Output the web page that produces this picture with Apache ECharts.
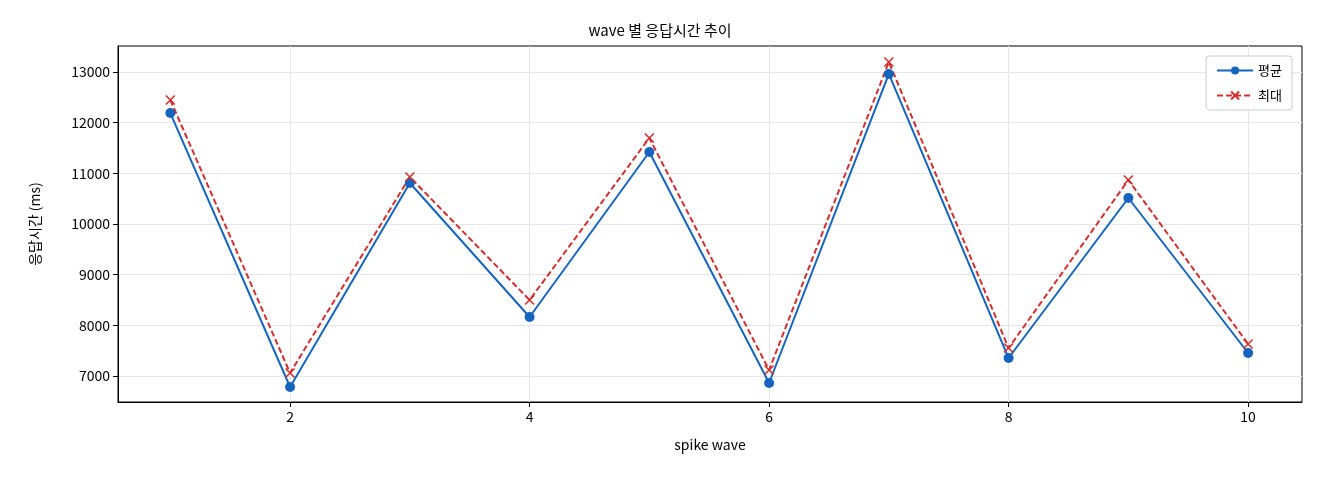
<!DOCTYPE html>
<html><head><meta charset="utf-8">
<script src="https://cdn.jsdelivr.net/npm/echarts@6/dist/echarts.min.js"></script>
<style>html,body{margin:0;padding:0;background:#fff}#c{width:1320px;height:480px}</style>
</head><body><div id="c"></div>
<script>
const waves = [1,2,3,4,5,6,7,8,9,10];
const avgMs = [12190,6783,10809,8164,11421,6862,12961,7355,10513,7454];
const maxMs = [12447,7059,10928,8500,11697,7118,13197,7553,10868,7632];
const xTicks = [2,4,6,8,10];
const yTicks = [7000,8000,9000,10000,11000,12000,13000];
const F = '"Noto Sans CJK KR", "DejaVu Sans", sans-serif';
const chart = echarts.init(document.getElementById('c'));
chart.setOption({
  animation:false,
  textStyle:{fontFamily:F},
  title:{text:'wave 별 응답시간 추이',left:'center',top:18,textStyle:{fontFamily:F,fontSize:15,fontWeight:'normal',color:'#000'}},
  grid:{left:118,right:18,top:46,bottom:78,show:true,borderColor:'#000',borderWidth:1,backgroundColor:'transparent'},
  legend:{right:28,top:56,orient:'vertical',itemWidth:36,itemHeight:10,itemGap:12,
    backgroundColor:'#fff',borderColor:'#ccc',borderWidth:1,borderRadius:3,padding:[8,10],
    textStyle:{fontFamily:F,fontSize:13,color:'#000'}},
  xAxis:{type:'value',min:0.563,max:10.45,name:'spike wave',nameLocation:'middle',nameGap:36,
    nameTextStyle:{fontFamily:F,fontSize:14,color:'#000'},
    axisLine:{onZero:false,lineStyle:{color:'#000'}},
    axisTick:{customValues:xTicks,length:5,lineStyle:{color:'#000'}},
    axisLabel:{customValues:xTicks,fontFamily:F,fontSize:14,color:'#000',formatter:v=>String(v)},
    splitLine:{show:true,lineStyle:{color:'#e6e6e6'}}},
  yAxis:{type:'value',min:6487,max:13513,name:'응답시간 (ms)',nameLocation:'middle',nameGap:76,
    nameTextStyle:{fontFamily:F,fontSize:14,color:'#000'},
    axisLine:{show:true,lineStyle:{color:'#000'}},
    axisTick:{show:true,customValues:yTicks,length:5,lineStyle:{color:'#000'}},
    axisLabel:{customValues:yTicks,fontFamily:F,fontSize:14,color:'#000',formatter:v=>String(v)},
    splitLine:{show:true,lineStyle:{color:'#e6e6e6'}}},
  series:[
    {name:'평균',type:'line',data:waves.map((w,i)=>[w,avgMs[i]]),symbol:'circle',symbolSize:10,
     itemStyle:{color:'#1565c0'},lineStyle:{color:'#1565c0',width:2}},
    {name:'최대',type:'line',data:waves.map((w,i)=>[w,maxMs[i]]),
     symbol:'path://M0,0L10,10M10,0L0,10',symbolSize:9,
     itemStyle:{color:'none',borderColor:'#d32f2f',borderWidth:1.6},
     lineStyle:{color:'#d32f2f',width:2,type:[6,3]}}
  ]
});
</script></body></html>
